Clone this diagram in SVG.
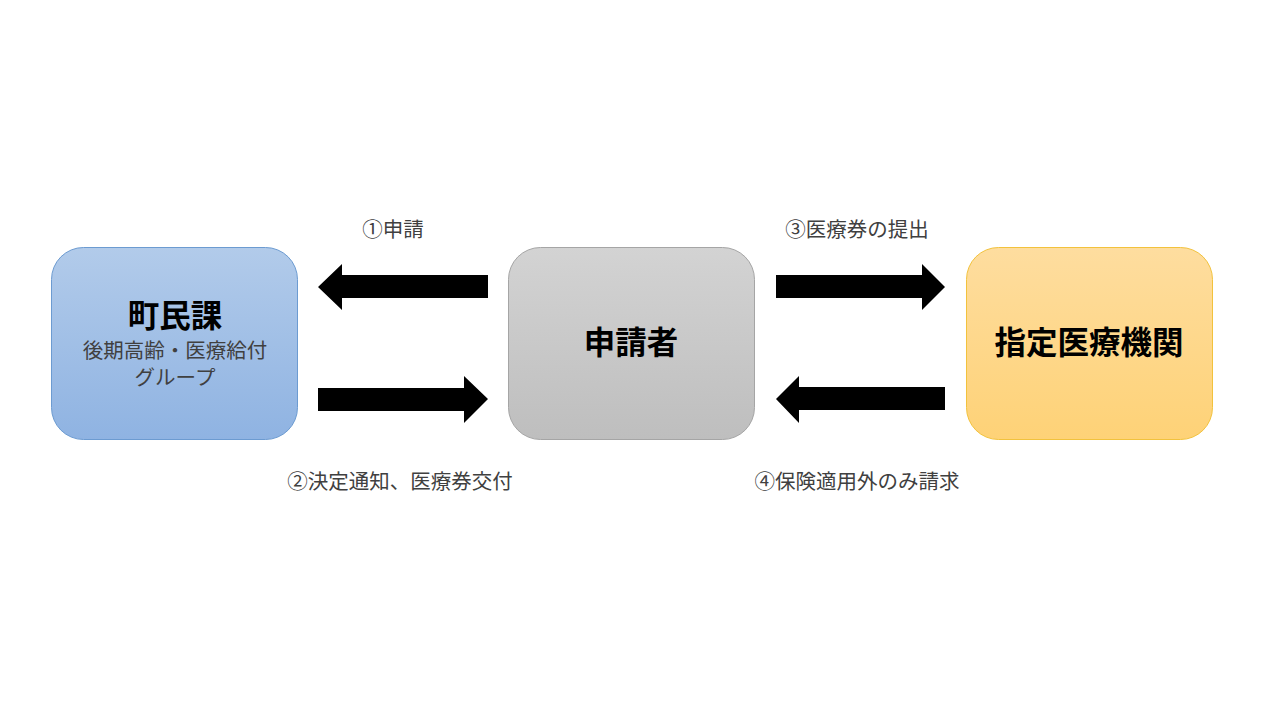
<svg xmlns="http://www.w3.org/2000/svg" width="1280" height="720" viewBox="0 0 1280 720">
<defs>
<linearGradient id="gBlue" x1="0" y1="0" x2="0" y2="1"><stop offset="0" stop-color="#b2cbea"/><stop offset="1" stop-color="#8fb3e2"/></linearGradient>
<linearGradient id="gGray" x1="0" y1="0" x2="0" y2="1"><stop offset="0" stop-color="#d3d3d3"/><stop offset="1" stop-color="#bebebe"/></linearGradient>
<linearGradient id="gOrange" x1="0" y1="0" x2="0" y2="1"><stop offset="0" stop-color="#fedd9f"/><stop offset="1" stop-color="#fed277"/></linearGradient>
<style>
text{font-family:"Noto Sans CJK JP","Noto Sans CJK SC",sans-serif;text-anchor:middle;}
.title{font-size:31.5px;font-weight:bold;fill:#000;}
.sub{font-size:20.5px;fill:#404040;}
.lbl{font-size:20.5px;fill:#404040;}
.arrow{fill:#000;}
</style>
</defs>
<rect width="1280" height="720" fill="#fff"/>
<g id="node-choumin">
<rect x="51.5" y="247.5" width="246" height="192" rx="32" fill="url(#gBlue)" stroke="#6c9bd1" stroke-width="1"/>
<text class="title" x="175" y="327">町民課</text>
<text class="sub" x="175" y="358">後期高齢・医療給付</text>
<text class="sub" x="175" y="385">グループ</text>
</g>
<g id="node-shinseisha">
<rect x="508.5" y="247.5" width="246" height="192" rx="32" fill="url(#gGray)" stroke="#a5a5a5" stroke-width="1"/>
<text class="title" x="631" y="354">申請者</text>
</g>
<g id="node-iryoukikan">
<rect x="966.5" y="247.5" width="246" height="192" rx="32" fill="url(#gOrange)" stroke="#f2c23d" stroke-width="1"/>
<text class="title" x="1089" y="354">指定医療機関</text>
</g>
<g id="connectors">
<polygon class="arrow" points="488,275 342,275 342,264 318,287 342,310 342,298 488,298"/>
<polygon class="arrow" points="318,388 464,388 464,376 488,399 464,423 464,411 318,411"/>
<polygon class="arrow" points="776,275 922,275 922,264 945,287 922,310 922,298 776,298"/>
<polygon class="arrow" points="945,387 799,387 799,376 776,399 799,423 799,410 945,410"/>
<text class="lbl" x="393" y="236.5">①申請</text>
<text class="lbl" x="400" y="488.5">②決定通知、医療券交付</text>
<text class="lbl" x="857" y="236.5">③医療券の提出</text>
<text class="lbl" x="857" y="488.5">④保険適用外のみ請求</text>
</g>
</svg>
